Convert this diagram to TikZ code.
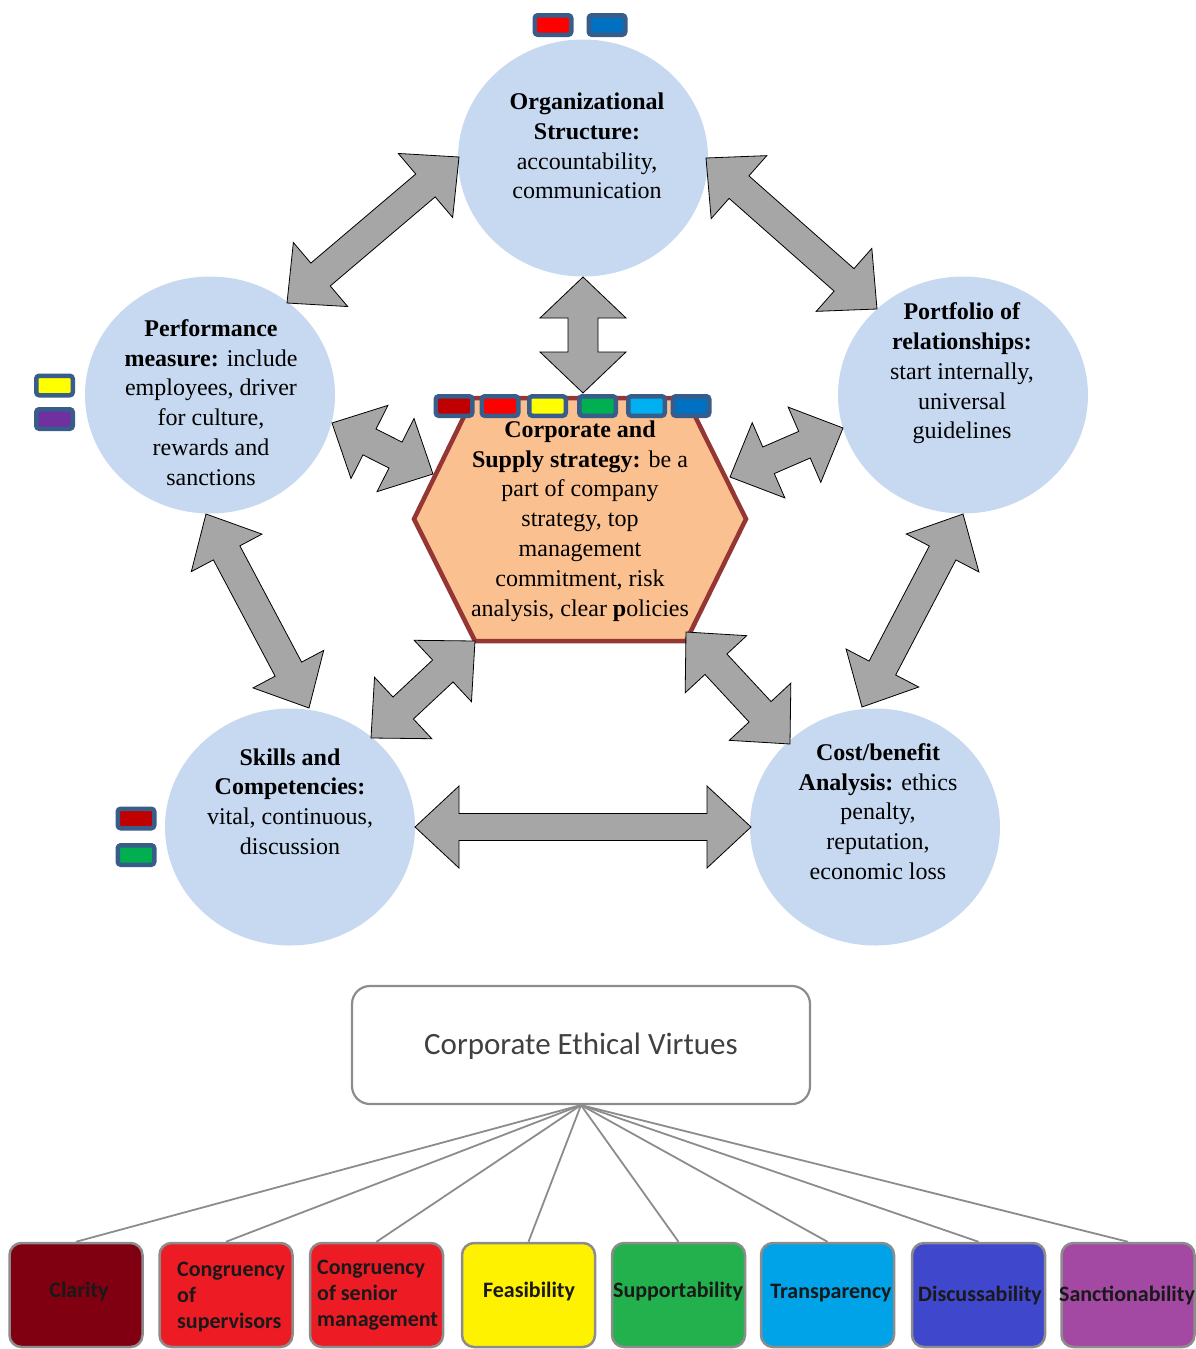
\documentclass[tikz,border=0pt]{standalone}
\usepackage{fontspec}
\setmainfont{Liberation Serif}
\newfontfamily\carlito{Carlito}
\usetikzlibrary{calc,shapes.geometric}

\definecolor{bubblefill}{HTML}{C6D9F0}
\definecolor{hexfill}{HTML}{FAC090}
\definecolor{hexline}{HTML}{943634}
\definecolor{arrowgray}{HTML}{A6A6A6}
\definecolor{legline}{HTML}{385D8A}
\definecolor{cdarkred}{HTML}{C00000}
\definecolor{cred}{HTML}{FF0000}
\definecolor{cyellow}{HTML}{FFFF00}
\definecolor{cgreen}{HTML}{00B050}
\definecolor{cltblue}{HTML}{00B0F0}
\definecolor{cblue}{HTML}{0070C0}
\definecolor{cpurple}{HTML}{7030A0}
\definecolor{vmaroon}{HTML}{800012}
\definecolor{vred}{HTML}{ED1C24}
\definecolor{vyellow}{HTML}{FFF200}
\definecolor{vgreen}{HTML}{22B14C}
\definecolor{vblue}{HTML}{00A2E8}
\definecolor{vindigo}{HTML}{3F48CC}
\definecolor{vpurple}{HTML}{A349A4}
\definecolor{boxline}{HTML}{8C8C8C}
\definecolor{cevtext}{HTML}{404040}

% block double-headed arrow from #1 to #2:
% #3 head length, #4 head half width, #5 shaft half width
\newcommand{\dblarrow}[5]{%
  \draw[blockarrow] (#1)
    -- ($(#1)!#3!(#2)!#4!90:(#2)$)
    -- ($(#1)!#3!(#2)!#5!90:(#2)$)
    -- ($(#2)!#3!(#1)!#5!-90:(#1)$)
    -- ($(#2)!#3!(#1)!#4!-90:(#1)$)
    -- (#2)
    -- ($(#2)!#3!(#1)!#4!90:(#1)$)
    -- ($(#2)!#3!(#1)!#5!90:(#1)$)
    -- ($(#1)!#3!(#2)!#5!-90:(#2)$)
    -- ($(#1)!#3!(#2)!#4!-90:(#2)$)
    -- cycle;}

\begin{document}
\begin{tikzpicture}[x=1pt,y=-1pt,
  bubble/.style={ellipse, fill=bubblefill, draw=none, inner sep=0pt,
    minimum width=250pt, minimum height=237pt},
  bubbletext/.style={align=center, inner sep=0pt,
    font=\fontsize{24pt}{29.8pt}\selectfont},
  blockarrow/.style={fill=arrowgray, draw=black, line width=0.8pt, line join=miter},
  legbox/.style={rectangle, rounded corners=3pt, draw=legline, line width=4.5pt,
    minimum width=36.5pt, minimum height=19.5pt, inner sep=0pt},
  virtuebox/.style={rectangle, rounded corners=12pt, draw=boxline, line width=2.5pt,
    minimum width=133pt, minimum height=104pt, inner sep=0pt},
  virtuetext/.style={inner sep=0pt, text=black!90,
    font=\carlito\bfseries\fontsize{22pt}{26pt}\selectfont},
  spoke/.style={draw=boxline, line width=1.8pt}
]
\useasboundingbox (0,0) rectangle (1195,1349);

% ---- five surrounding bubbles ----
\node[bubble] (org)  at (583,158) {};
\node[bubble] (perf) at (210,395) {};
\node[bubble] (port) at (963,395) {};
\node[bubble] (skill) at (290,827) {};
\node[bubble] (cost) at (875,827) {};

\node[bubbletext] (orgtxt) at (587,146)
  {\textbf{Organizational}\\\textbf{Structure:}\\accountability,\\communication};
\node[bubbletext] (perftxt) at (211,402.5)
  {\textbf{Performance}\\\textbf{measure:} include\\employees, driver\\for culture,\\rewards and\\sanctions};
\node[bubbletext] (porttxt) at (962,373.5)
  {\textbf{Portfolio of}\\\textbf{relationships:}\\start internally,\\universal\\guidelines};
\node[bubbletext] (skilltxt) at (290,801.5)
  {\textbf{Skills and}\\\textbf{Competencies:}\\vital, continuous,\\discussion};
\node[bubbletext] (costtxt) at (878,811.5)
  {\textbf{Cost/benefit}\\\textbf{Analysis:} ethics\\penalty,\\reputation,\\economic loss};

% ---- central hexagon ----
\coordinate (h1) at (414,519);
\coordinate (h2) at (473,398);
\coordinate (h3) at (686,398);
\coordinate (h4) at (746,519);
\coordinate (h5) at (686,641);
\coordinate (h6) at (475,641);
\draw[fill=hexfill, draw=hexline, line width=4.5pt, line join=miter]
  (h1) -- (h2) -- (h3) -- (h4) -- (h5) -- (h6) -- cycle;
\node[bubbletext] (hextxt) at (580,521)
  {\textbf{Corporate and}\\\textbf{Supply strategy:} be a\\part of company\\strategy, top\\management\\commitment, risk\\analysis, clear \textbf{p}olicies};

% ---- arrow end points ----
\coordinate (a1s) at (459,157);  \coordinate (a1e) at (287,303);
\coordinate (a2s) at (706,158);  \coordinate (a2e) at (877,309);
\coordinate (a3s) at (583,277);  \coordinate (a3e) at (583,393);
\coordinate (a4s) at (332,423);  \coordinate (a4e) at (433,474);
\coordinate (a5s) at (843,428);  \coordinate (a5e) at (730,477);
\coordinate (a6s) at (206,514);  \coordinate (a6e) at (309,708);
\coordinate (a7s) at (963,514);  \coordinate (a7e) at (862,707);
\coordinate (a8s) at (371,738);  \coordinate (a8e) at (475,641);
\coordinate (a9s) at (686,632);  \coordinate (a9e) at (790,744);
\coordinate (a10s) at (415,827); \coordinate (a10e) at (751,827);

\dblarrow{a1s}{a1e}{44pt}{42pt}{15pt}
\dblarrow{a2s}{a2e}{44pt}{42pt}{15pt}
\dblarrow{a3s}{a3e}{41pt}{43pt}{15pt}
\dblarrow{a4s}{a4e}{42pt}{41pt}{14.5pt}
\dblarrow{a5s}{a5e}{42pt}{41pt}{14.5pt}
\dblarrow{a6s}{a6e}{44pt}{40pt}{15pt}
\dblarrow{a7s}{a7e}{44pt}{41pt}{15pt}
\dblarrow{a8s}{a8e}{44pt}{42pt}{15pt}
\dblarrow{a9s}{a9e}{44pt}{42pt}{15pt}
\dblarrow{a10s}{a10e}{44pt}{41pt}{13.5pt}

% ---- colour tags ----
\node[legbox, fill=cred]  (tg1) at (553,25) {};
\node[legbox, fill=cblue] (tg2) at (607,25) {};

\node[legbox, fill=cdarkred] (hx1) at (454,406) {};
\node[legbox, fill=cred]     (hx2) at (500,406) {};
\node[legbox, fill=cyellow]  (hx3) at (547.5,406) {};
\node[legbox, fill=cgreen]   (hx4) at (597.5,406) {};
\node[legbox, fill=cltblue]  (hx5) at (646.5,406) {};
\node[legbox, fill=cblue]    (hx6) at (691,406) {};

\node[legbox, fill=cyellow] (pf1) at (54.5,385.5) {};
\node[legbox, fill=cpurple] (pf2) at (54.5,419) {};

\node[legbox, fill=cdarkred] (sk1) at (136,818.5) {};
\node[legbox, fill=cgreen]   (sk2) at (136,855) {};

% ---- corporate ethical virtues tree ----
\node[rectangle, rounded corners=18pt, draw=boxline, line width=2.2pt,
  minimum width=458pt, minimum height=118pt, inner sep=0pt] (cev) at (581,1045) {};
\node[text=cevtext, inner sep=0pt, font=\carlito\fontsize{31pt}{37pt}\selectfont]
  (cevtxt) at (581,1046) {Corporate Ethical Virtues};

\node[virtuebox, fill=vmaroon] (v1) at (76,1295) {};
\node[virtuebox, fill=vred]    (v2) at (226,1295) {};
\node[virtuebox, fill=vred]    (v3) at (376.5,1295) {};
\node[virtuebox, fill=vyellow] (v4) at (528.5,1295) {};
\node[virtuebox, fill=vgreen]  (v5) at (678.5,1295) {};
\node[virtuebox, fill=vblue]   (v6) at (827.5,1295) {};
\node[virtuebox, fill=vindigo] (v7) at (978.5,1295) {};
\node[virtuebox, fill=vpurple] (v8) at (1128,1295) {};

\foreach \v in {v1,v2,v3,v4,v5,v6,v7,v8}
  \draw[spoke] (cev.south) -- (\v.north);

\node[virtuetext] (t1) at (79,1291) {Clarity};
\node[virtuetext, anchor=west, align=left] (t2) at (177,1297) {Congruency\\of\\supervisors};
\node[virtuetext, anchor=west, align=left] (t3) at (317,1295) {Congruency\\of senior\\management};
\node[virtuetext] (t4) at (529,1291) {Feasibility};
\node[virtuetext] (t5) at (678,1291) {Supportability};
\node[virtuetext] (t6) at (831,1293) {Transparency};
\node[virtuetext] (t7) at (980,1295) {Discussability};
\node[virtuetext] (t8) at (1127,1295) {Sanctionability};
\end{tikzpicture}
\end{document}
